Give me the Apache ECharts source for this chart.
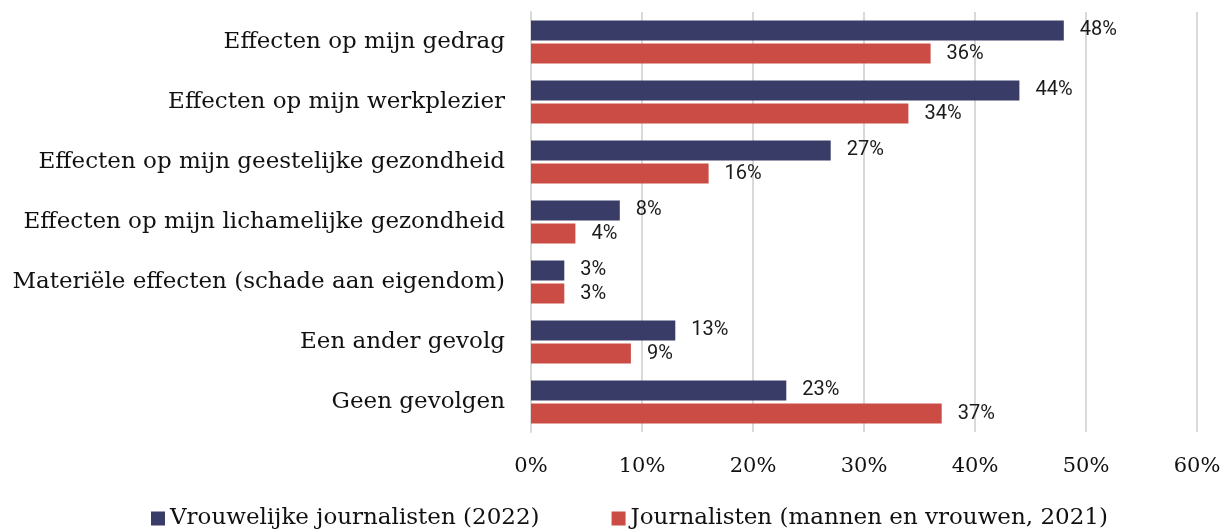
<!DOCTYPE html>
<html>
<head>
<meta charset="utf-8">
<script src="https://cdn.jsdelivr.net/npm/echarts@6/dist/echarts.min.js"></script>
<style>
  html, body { margin: 0; padding: 0; background: #fff; }
  #chart { width: 1227px; height: 530px; }
</style>
</head>
<body>
<div id="chart"></div>
<script>
  const categories = [
    'Effecten op mijn gedrag',
    'Effecten op mijn werkplezier',
    'Effecten op mijn geestelijke gezondheid',
    'Effecten op mijn lichamelijke gezondheid',
    'Materiële effecten (schade aan eigendom)',
    'Een ander gevolg',
    'Geen gevolgen'
  ];
  const seriesNames = ['Vrouwelijke journalisten (2022)', 'Journalisten (mannen en vrouwen, 2021)'];
  const women2022 = [48, 44, 27, 8, 3, 13, 23];
  const all2021 = [36, 34, 16, 4, 3, 9, 37];
  const xTicks = [0, 10, 20, 30, 40, 50, 60];

  const chart = echarts.init(document.getElementById('chart'));

  const label = {
    show: true,
    position: 'right',
    distance: 16,
    formatter: '{c}%',
    color: '#1a1a1a',
    fontFamily: 'Roboto',
    fontSize: 20
  };

  chart.setOption({
    animation: false,
    grid: { left: 531, right: 30, top: 12, bottom: 98 },
    legend: {
      top: 502,
      left: 146,
      itemWidth: 14,
      itemHeight: 14,
      itemGap: 72,
      icon: 'rect',
      textStyle: { fontFamily: 'DejaVu Serif', fontSize: 23, color: '#111' },
      data: seriesNames
    },
    xAxis: {
      type: 'value',
      min: xTicks[0],
      max: xTicks[xTicks.length - 1],
      interval: 10,
      axisLine: { show: false },
      axisTick: { show: false },
      axisLabel: {
        formatter: '{value}%',
        margin: 24,
        fontFamily: 'DejaVu Serif',
        fontSize: 21,
        color: '#111'
      },
      splitLine: { show: true, lineStyle: { color: '#d9d9d9', width: 2 } }
    },
    yAxis: {
      type: 'category',
      inverse: true,
      data: categories,
      axisLine: { show: true, lineStyle: { color: '#d9d9d9', width: 2 } },
      axisTick: { show: false },
      axisLabel: {
        margin: 26,
        fontFamily: 'DejaVu Serif',
        fontSize: 23,
        color: '#111'
      }
    },
    series: [
      {
        name: seriesNames[0],
        type: 'bar',
        data: women2022,
        itemStyle: { color: '#3a3c68' },
        barGap: '15%',
        barCategoryGap: '28%',
        label: label
      },
      {
        name: seriesNames[1],
        type: 'bar',
        data: all2021,
        itemStyle: { color: '#cb4c44' },
        label: label
      }
    ]
  });
</script>
</body>
</html>
